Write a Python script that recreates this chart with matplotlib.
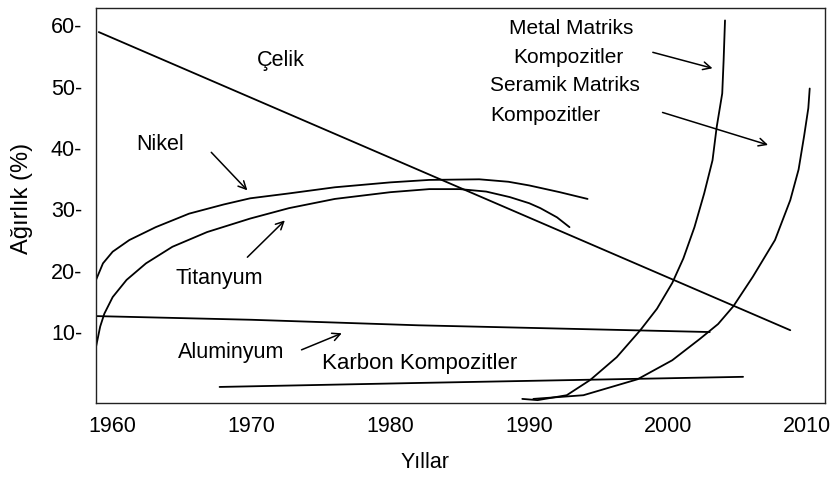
import matplotlib.pyplot as plt

# Values (year, weight %)
celik_x = [1959.0, 2008.8]
celik_y = [58.9, 10.3]

nikel_x = [1958.8, 1959.3, 1960.0, 1961.2, 1963.1, 1965.5, 1968.0, 1969.9, 1972.7,
           1976.0, 1980.0, 1982.8, 1986.4, 1988.5, 1990.0, 1992.2, 1994.2]
nikel_y = [18.5, 21.2, 23.1, 25.0, 27.1, 29.3, 30.8, 31.8, 32.6,
           33.6, 34.4, 34.8, 34.9, 34.5, 33.9, 32.8, 31.7]

titan_x = [1958.8, 1959.1, 1959.4, 1960.0, 1961.0, 1962.4, 1964.3, 1966.8, 1969.9,
           1972.7, 1976.0, 1980.0, 1982.8, 1985.0, 1986.9, 1988.6, 1990.0, 1990.8,
           1992.0, 1992.9]
titan_y = [7.6, 10.9, 13.0, 15.7, 18.5, 21.2, 23.9, 26.3, 28.5,
           30.2, 31.7, 32.8, 33.3, 33.3, 32.9, 32.0, 31.0, 30.2,
           28.7, 27.1]

alu_x = [1958.8, 1970.0, 1982.0, 2003.0]
alu_y = [12.6, 12.0, 11.1, 10.0]

karbon_x = [1967.7, 1982.0, 2005.4]
karbon_y = [1.05, 1.7, 2.7]

metal_x = [1989.5, 1990.6, 1992.7, 1994.4, 1996.3, 1998.0, 1999.2, 2000.3, 2001.1,
           2001.9, 2002.6, 2003.2, 2003.5, 2003.9, 2004.0, 2004.1]
metal_y = [-0.9, -1.1, -0.3, 2.2, 5.9, 10.3, 13.8, 18.0, 22.0,
           27.1, 32.6, 38.0, 43.4, 48.9, 54.3, 60.8]

seramik_x = [1990.3, 1993.9, 1997.8, 2000.3, 2002.3, 2003.6, 2004.7, 2006.1, 2007.7,
             2008.8, 2009.4, 2009.8, 2010.1, 2010.2]
seramik_y = [-0.9, -0.3, 2.3, 5.4, 8.9, 11.3, 14.2, 19.0, 25.0,
             31.5, 36.5, 42.0, 46.5, 49.7]

year_ticks = [1960, 1970, 1980, 1990, 2000, 2010]
pct_ticks = [10, 20, 30, 40, 50, 60]

plt.rcParams['font.family'] = ['Liberation Sans', 'DejaVu Sans']

fig = plt.figure(figsize=(8.35, 4.8), dpi=100)
ax = fig.add_axes([0.115, 0.160, 0.873, 0.823])

lw = 1.3
for xs, ys in [(celik_x, celik_y), (nikel_x, nikel_y), (titan_x, titan_y),
               (alu_x, alu_y), (karbon_x, karbon_y), (metal_x, metal_y),
               (seramik_x, seramik_y)]:
    ax.plot(xs, ys, color='black', lw=lw, solid_capstyle='round',
            solid_joinstyle='round')

ax.set_xlim(1958.8, 2011.3)
ax.set_ylim(-1.6, 62.8)
ax.set_xticks(year_ticks)
ax.set_xticklabels([str(t) for t in year_ticks])
ax.set_yticks(pct_ticks)
ax.set_yticklabels([f'{t}-' for t in pct_ticks])
ax.tick_params(axis='both', length=0, labelsize=15.5)
ax.tick_params(axis='x', pad=9)
ax.tick_params(axis='y', pad=10)
for s in ax.spines.values():
    s.set_color('#222222')
    s.set_linewidth(1.0)

ax.set_xlabel('Yıllar', fontsize=15.5)
ax.xaxis.set_label_coords(0.451, -0.124)
ax.set_ylabel('Ağırlık (%)', fontsize=17)
ax.yaxis.set_label_coords(-0.086, 0.519)

fs = 15.5
ax.text(1970.4, 54.3, 'Çelik', fontsize=fs, va='center')
ax.text(1961.7, 40.5, 'Nikel', fontsize=fs, va='center')
ax.text(1964.5, 18.8, 'Titanyum', fontsize=fs, va='center')
ax.text(1964.7, 6.6, 'Aluminyum', fontsize=fs, va='center')
ax.text(1975.1, 4.95, 'Karbon Kompozitler', fontsize=16, va='center')
ax.text(1993.0, 59.5, 'Metal Matriks', fontsize=15, va='center', ha='center')
ax.text(1992.8, 54.8, 'Kompozitler', fontsize=15, va='center', ha='center')
ax.text(1987.2, 50.2, 'Seramik Matriks', fontsize=15, va='center')
ax.text(1987.2, 45.3, 'Kompozitler', fontsize=15, va='center')

arrows = [((1967.1, 39.3), (1969.7, 33.1)),
          ((1969.7, 22.2), (1972.4, 28.2)),
          ((1973.6, 7.1), (1976.5, 9.8)),
          ((1998.9, 55.6), (2003.2, 53.0)),
          ((1999.6, 45.8), (2007.2, 40.5))]
for start, end in arrows:
    ax.annotate('', xy=end, xytext=start,
                arrowprops=dict(arrowstyle='->', color='black', lw=1.1,
                                mutation_scale=14, shrinkA=0, shrinkB=0))

fig.savefig('out.png', dpi=100)
